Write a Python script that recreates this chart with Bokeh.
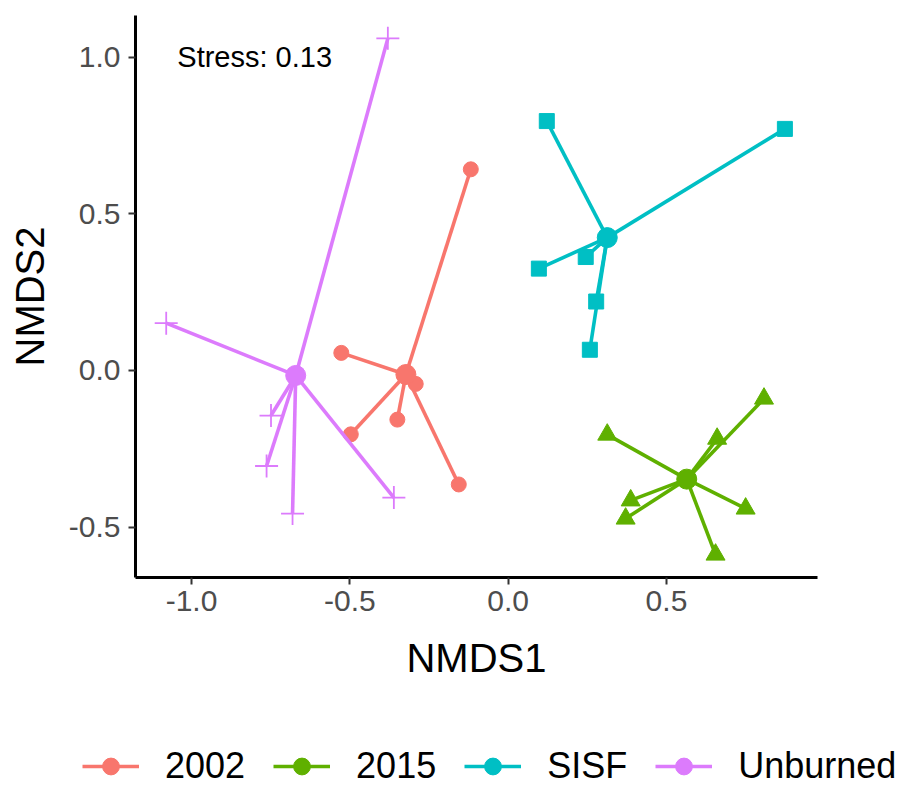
from bokeh.plotting import figure
from bokeh.models import (ColumnDataSource, Legend, LegendItem, FixedTicker,
                          PrintfTickFormatter, Range1d, Label)
from bokeh.layouts import column, row
from bokeh.embed import file_html
from bokeh.resources import INLINE

# ---- data ----
groups = ["2002", "2015", "SISF", "Unburned"]
colors = ["#F8766D", "#5FB000", "#00BFC4", "#DC7BFC"]
markers = ["circle", "triangle", "square", "cross"]

x_2002 = [-0.527, -0.292, -0.350, -0.497, -0.156, -0.118]
y_2002 = [0.056, -0.043, -0.157, -0.204, -0.364, 0.642]
x_2015 = [0.313, 0.808, 0.660, 0.387, 0.371, 0.750, 0.655]
y_2015 = [-0.205, -0.090, -0.218, -0.415, -0.473, -0.441, -0.588]
x_sisf = [0.122, 0.874, 0.097, 0.245, 0.278, 0.258]
y_sisf = [0.796, 0.771, 0.325, 0.362, 0.220, 0.066]
x_unb = [-0.380, -1.080, -0.749, -0.763, -0.681, -0.361]
y_unb = [1.060, 0.151, -0.144, -0.305, -0.457, -0.406]

cent_x = [-0.323, 0.564, 0.313, -0.671]
cent_y = [-0.013, -0.347, 0.424, -0.016]

xs = [x_2002, x_2015, x_sisf, x_unb]
ys = [y_2002, y_2015, y_sisf, y_unb]

x_ticks = [-1.0, -0.5, 0.0, 0.5]
y_ticks = [-0.5, 0.0, 0.5, 1.0]
stress_text = "Stress: 0.13"

FONT = "Liberation Sans"

p = figure(width=899, height=720, output_backend="svg", toolbar_location=None,
           x_range=Range1d(-1.177, 0.977), y_range=Range1d(-0.661, 1.133),
           min_border_left=135, min_border_right=82, min_border_top=15,
           min_border_bottom=143)
p.outline_line_color = None
p.grid.visible = False

for ax in (p.xaxis[0], p.yaxis[0]):
    ax.axis_line_width = 3
    ax.axis_line_color = "black"
    ax.major_tick_line_width = 2
    ax.major_tick_line_color = "#333333"
    ax.major_tick_out = 7
    ax.major_tick_in = 0
    ax.minor_tick_line_color = None
    ax.major_label_text_font = FONT
    ax.major_label_text_font_size = "30px"
    ax.major_label_text_color = "#4D4D4D"
    ax.axis_label_text_font = FONT
    ax.axis_label_text_font_size = "40px"
    ax.axis_label_text_font_style = "normal"
    ax.axis_label_text_color = "black"
    ax.formatter = PrintfTickFormatter(format="%.1f")

p.xaxis.ticker = FixedTicker(ticks=x_ticks)
p.yaxis.ticker = FixedTicker(ticks=y_ticks)
p.xaxis.axis_label = "NMDS1"
p.yaxis.axis_label = "NMDS2"
p.xaxis.major_label_standoff = 6
p.yaxis.major_label_standoff = 8
p.xaxis.axis_label_standoff = 22
p.yaxis.axis_label_standoff = 14

for g, c, m, gx, gy, cx, cy in zip(groups, colors, markers, xs, ys, cent_x, cent_y):
    seg_src = ColumnDataSource(dict(x0=[cx] * len(gx), y0=[cy] * len(gy), x1=gx, y1=gy))
    p.segment("x0", "y0", "x1", "y1", source=seg_src, line_color=c, line_width=3.6)
    pt_src = ColumnDataSource(dict(x=gx, y=gy))
    if m == "cross":
        p.scatter("x", "y", source=pt_src, marker=m, size=23, line_color=c, line_width=1.8)
    elif m == "triangle":
        p.scatter("x", "y", source=pt_src, marker=m, size=19, fill_color=c, line_color=c)
    else:
        p.scatter("x", "y", source=pt_src, marker=m, size=15, fill_color=c, line_color=c)
    p.scatter([cx], [cy], marker="circle", size=20, fill_color=c, line_color=c)

p.add_layout(Label(x=-1.045, y=1.0, text=stress_text, text_font=FONT,
                   text_font_size="29px", text_align="left", text_baseline="middle",
                   text_color="black"))

# ---- legend strip below the plot ----
lg = figure(width=899, height=67, output_backend="svg", toolbar_location=None,
            x_axis_type=None, y_axis_type=None, x_range=Range1d(0, 1), y_range=Range1d(0, 1),
            min_border_left=0, min_border_right=0, min_border_top=0, min_border_bottom=0)
lg.outline_line_color = None
lg.grid.visible = False
items = []
for g, c in zip(groups, colors):
    # legend key renderers, placed outside the visible range of the strip
    seg = lg.segment(x0=[-5], y0=[-5], x1=[-4], y1=[-5], line_color=c, line_width=3.6)
    dot = lg.scatter(x=[-5], y=[-5], marker="circle", size=20, fill_color=c, line_color=c)
    items.append(LegendItem(label=g, renderers=[seg, dot]))

legend = Legend(items=items, orientation="horizontal", location=(82, 0),
                glyph_width=57, glyph_height=42, label_height=42,
                label_standoff=26, spacing=28, padding=0, margin=0,
                label_text_font=FONT, label_text_font_size="36px",
                label_text_color="black", label_text_baseline="middle",
                border_line_color=None, background_fill_alpha=0)
lg.add_layout(legend, "center")

layout = column(p, row(lg), spacing=0)
open("out.html", "w").write(file_html(layout, INLINE))
